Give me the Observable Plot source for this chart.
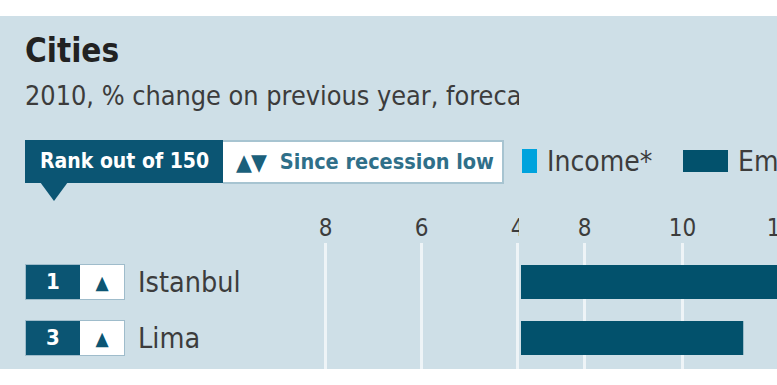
<!DOCTYPE html>
<html><head><meta charset="utf-8">
<script src="https://cdn.jsdelivr.net/npm/d3@7"></script>
<script src="https://cdn.jsdelivr.net/npm/@observablehq/plot@0.6"></script>
<style>
body{margin:0;background:#fff;}
#wrap{position:relative;width:777px;height:385px;overflow:hidden;font-family:"DejaVu Sans Condensed","DejaVu Sans",sans-serif;font-stretch:condensed;color:#3c3c3c;}
.abs{position:absolute;line-height:1;white-space:nowrap;}
#bg{left:0;top:16px;width:777px;height:353px;background:#cedfe7;}
#title{left:25px;top:34px;font-size:33px;font-weight:bold;color:#222;}
#subclip{left:25px;top:80px;width:494px;height:36px;overflow:hidden;}
#sub{left:0;top:3px;font-size:26.8px;color:#3c3c3c;}
#rankbox{left:25px;top:140px;width:198px;height:43px;background:#0b5573;color:#fff;font-weight:bold;font-size:21px;display:flex;align-items:center;padding-left:15px;box-sizing:border-box;}
#pointer{left:40px;top:182px;width:0;height:0;border-left:14px solid transparent;border-right:14px solid transparent;border-top:19px solid #0b5573;}
#sincebox{left:223px;top:140px;width:281px;height:44px;background:#fff;border:2px solid #a7c4d1;border-left:none;box-sizing:border-box;display:flex;align-items:center;padding-left:13px;color:#2f6f89;font-weight:bold;font-size:21.5px;}
#overlay{left:519px;top:16px;width:258px;height:353px;background:#cedfe7;overflow:hidden;}
.rank{left:25px;width:100px;height:36px;box-sizing:border-box;border:1px solid #9fbccb;display:flex;}
.rank .num{width:54px;background:#0b5573;color:#fff;font-weight:bold;font-size:22px;display:flex;align-items:center;justify-content:center;}
.rank .dir{flex:1;background:#fff;color:#0b5573;font-size:19px;display:flex;align-items:center;justify-content:center;}
.city{left:138px;font-size:28.5px;color:#3c3c3c;height:36px;display:flex;align-items:center;}
</style></head><body>
<div id="wrap">
  <div id="bg" class="abs"></div>
  <div id="title" class="abs">Cities</div>
  <div id="subclip" class="abs"><div id="sub" class="abs">2010, % change on previous year, forecast</div></div>
  <div id="rankbox" class="abs">Rank out of 150</div>
  <div id="pointer" class="abs"></div>
  <div id="sincebox" class="abs"><span style="font-weight:normal;font-size:23px;letter-spacing:-1px;color:#1b607b">▲▼</span><span style="margin-left:14px">Since recession low</span></div>
  <div id="leftplot" class="abs" style="left:0;top:200px;"></div>
  <div id="rows"></div>
  <div id="overlay" class="abs">
    <div class="abs" style="left:3px;top:133px;width:15px;height:24px;background:#00a3dd"></div>
    <div class="abs" style="left:28px;top:132px;font-size:28px;color:#3c3c3c">Income*</div>
    <div class="abs" style="left:164px;top:134px;width:45px;height:22px;background:#02516c"></div>
    <div class="abs" style="left:219px;top:132px;font-size:28px;color:#3c3c3c">Employment</div>
    <div id="rightplot" class="abs" style="left:2px;top:184px;"></div>
  </div>
</div>
<script>
const cities = ["Istanbul", "Lima"];
const ranks = [1, 3];
const sinceLow = ["▲", "▲"];
const employment = [13.2, 11.25];
const incomeTicks = [8, 6, 4];
const employmentTicks = [8, 10, 12];

const gridColor = "#eef4f7";
const barColor = "#02516c";
const fontFam = '"DejaVu Sans Condensed","DejaVu Sans",sans-serif';
const rows = cities.map((c, i) => ({city: c, rank: ranks[i], dir: sinceLow[i], employment: employment[i]}));

const common = {
  height: 169, marginTop: 43, marginBottom: 0, marginLeft: 0, marginRight: 0,
  style: {background: "transparent", maxWidth: "none", overflow: "visible", fontFamily: fontFam, color: "#3c3c3c", fontSize: "24px"}
};

const left = Plot.plot({
  ...common,
  width: 519,
  x: {domain: [4, 10.8], range: [517, 190.6], axis: null, label: null},
  marks: [
    Plot.ruleX(incomeTicks, {stroke: gridColor, strokeWidth: 3}),
    Plot.axisX(incomeTicks, {anchor: "top", tickSize: 0, tickPadding: 8, fontSize: 24, label: null})
  ]
});
document.getElementById("leftplot").appendChild(left);

const right = Plot.plot({
  ...common,
  width: 300,
  x: {domain: [8 - 63 / 49, 8 + 237 / 49], range: [0, 300], axis: null, label: null},
  y: {type: "band", domain: cities, range: [54, 166], paddingInner: 0.39, paddingOuter: 0.195, axis: null},
  marks: [
    Plot.ruleX(employmentTicks, {stroke: gridColor, strokeWidth: 3}),
    Plot.barX(rows, {x1: 0, x2: "employment", y: "city", fill: barColor, clip: true}),
    Plot.axisX(employmentTicks, {anchor: "top", tickSize: 0, tickPadding: 8, fontSize: 24, label: null})
  ]
});
document.getElementById("rightplot").appendChild(right);

const y = right.scale("y");
const rowsDiv = document.getElementById("rows");
rows.forEach(r => {
  const top = 200 + y.apply(r.city) - 1;
  const box = document.createElement("div");
  box.className = "abs rank";
  box.style.top = top + "px";
  box.innerHTML = `<div class="num">${r.rank}</div><div class="dir">${r.dir}</div>`;
  rowsDiv.appendChild(box);
  const name = document.createElement("div");
  name.className = "abs city";
  name.style.top = (top + 1) + "px";
  name.textContent = r.city;
  rowsDiv.appendChild(name);
});
</script>
</body></html>
